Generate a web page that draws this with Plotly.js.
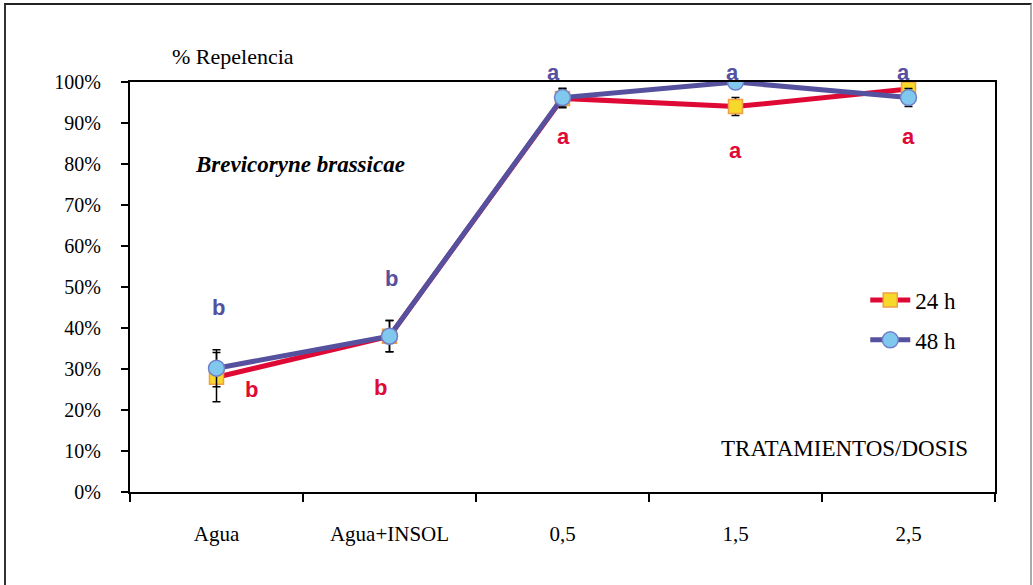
<!DOCTYPE html>
<html><head><meta charset="utf-8">
<script src="https://cdn.plot.ly/plotly-3.0.1.min.js"></script>
<style>
html,body{margin:0;padding:0;background:#fff;}
#frame{position:absolute;left:4px;top:3px;width:1024px;height:600px;border-top:2px solid #222;border-left:2px solid #333;border-right:2px solid #aaa;}
#chart{position:absolute;left:0;top:0;width:1033px;height:585px;}
</style></head><body>
<div id="chart"></div>
<div id="frame"></div>
<script>
const categories = ['Agua','Agua+INSOL','0,5','1,5','2,5'];
const rep24 = [0.28, 0.38, 0.96, 0.94, 0.983];
const rep48 = [0.302, 0.38, 0.962, 1.00, 0.962];
const err24 = [0.06, 0.038, 0.023, 0.022, 0.023];
const err48 = [0.045, 0.038, 0.023, 0.0, 0.022];
const letters24 = ['b','b','a','a','a'];
const letters48 = ['b','b','a','a','a'];

const red = '#DE0A35', purple = '#55519E';
const serif = 'Liberation Serif, Times New Roman, serif';

const t24 = {
  x: categories, y: rep24, name: '24 h', type: 'scatter', mode: 'lines+markers',
  line: {color: red, width: 5},
  marker: {symbol: 'square', size: 14, color: '#F8D82A', line: {color: '#F0A040', width: 1.5}},
  error_y: {type: 'data', array: err24, visible: true, color: '#000', thickness: 1.5, width: 4},
  legend: 'legend'
};
const t48 = {
  x: categories, y: rep48, name: '48 h', type: 'scatter', mode: 'lines+markers',
  line: {color: purple, width: 5},
  marker: {symbol: 'circle', size: 16, color: '#80C8EE', line: {color: '#7080C8', width: 1.5}},
  error_y: {type: 'data', array: err48, visible: true, color: '#000', thickness: 1.5, width: 4},
  legend: 'legend2'
};

// letter label placement offsets (layout only)
const off24 = [[0.2,0.249],[-0.05,0.254],[0.006,0.866],[0.0,0.832],[0.0,0.866]];
const off48 = [[0.01,0.451],[0.01,0.52],[-0.05,1.024],[-0.02,1.024],[-0.03,1.024]];
const ann = [];
letters24.forEach((l,i)=>ann.push({x: i+off24[i][0], y: off24[i][1], xref:'x', yref:'paper', xanchor:'center', yanchor:'middle', text:'<b>'+l+'</b>', showarrow:false, font:{family:'Liberation Sans, Arial, sans-serif', size:22, color:red}}));
letters48.forEach((l,i)=>ann.push({x: i+off48[i][0], y: off48[i][1], xref:'x', yref:'paper', xanchor:'center', yanchor:'middle', text:'<b>'+l+'</b>', showarrow:false, font:{family:'Liberation Sans, Arial, sans-serif', size:22, color:purple}}));
ann.push({x:0.046, y:1.063, xref:'paper', yref:'paper', xanchor:'left', yanchor:'middle', text:'% Repelencia', showarrow:false, font:{family:serif, size:22, color:'#000'}});
ann.push({x:0.073, y:0.80, xref:'paper', yref:'paper', xanchor:'left', yanchor:'middle', text:'<b><i>Brevicoryne brassicae</i></b>', showarrow:false, font:{family:serif, size:23, color:'#000'}});
ann.push({x:0.971, y:0.107, xref:'paper', yref:'paper', xanchor:'right', yanchor:'middle', text:'TRATAMIENTOS/DOSIS', showarrow:false, font:{family:serif, size:23, color:'#000'}});

const layout = {
  width: 1033, height: 585,
  margin: {l:130, r:38, t:82, b:93},
  paper_bgcolor: '#fff', plot_bgcolor: '#fff',
  showlegend: true,
  xaxis: {type:'category', range:[-0.5,4.5], tickson:'boundaries', ticks:'outside', ticklen:8, tickwidth:1.5, tickcolor:'#000',
    showline:true, linecolor:'#000', linewidth:2, mirror:true, showgrid:false, zeroline:false,
    tickfont:{family:serif, size:21, color:'#000'}, ticklabelstandoff:22},
  yaxis: {range:[0,1], dtick:0.1, tickformat:'.0%', ticks:'outside', ticklen:7, tickwidth:1.5, tickcolor:'#000',
    showline:true, linecolor:'#000', linewidth:2, mirror:true, showgrid:false, zeroline:false,
    tickfont:{family:serif, size:20, color:'#000'}, ticklabelstandoff:16},
  legend: {x:0.85, y:0.468, xanchor:'left', yanchor:'middle', xref:'paper', yref:'paper', bgcolor:'rgba(0,0,0,0)', font:{family:serif, size:23, color:'#000'}, itemwidth:40},
  legend2: {x:0.85, y:0.371, xanchor:'left', yanchor:'middle', xref:'paper', yref:'paper', bgcolor:'rgba(0,0,0,0)', font:{family:serif, size:23, color:'#000'}, itemwidth:40},
  annotations: ann
};
Plotly.newPlot('chart', [t24, t48], layout, {displayModeBar:false, staticPlot:true});
</script>
</body></html>
